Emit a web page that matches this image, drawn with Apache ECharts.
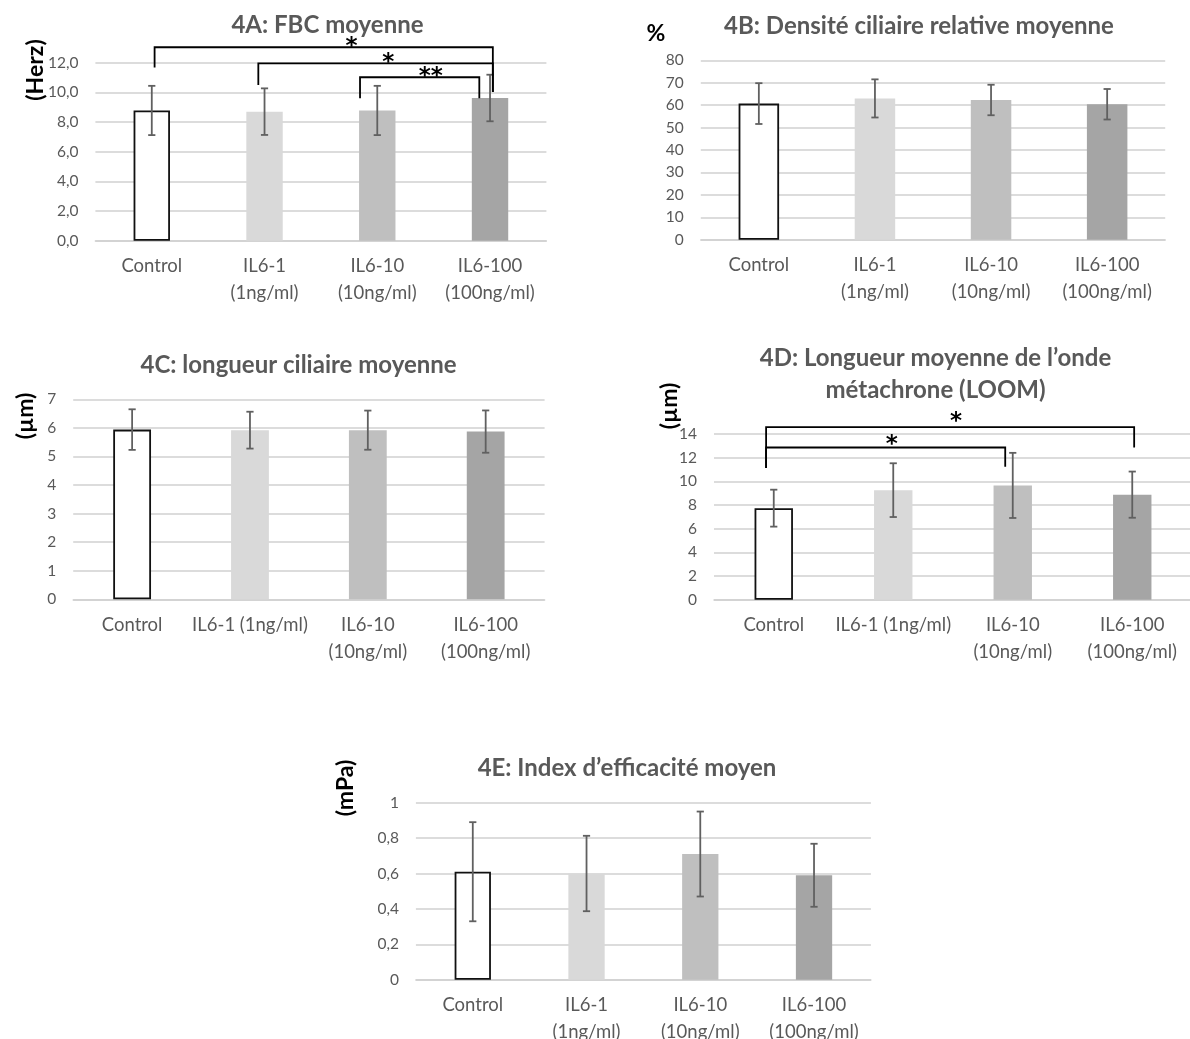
<!DOCTYPE html>
<html><head><meta charset="utf-8">
<script src="https://cdn.jsdelivr.net/npm/echarts/dist/echarts.min.js"></script>
<style>html,body{margin:0;padding:0;background:#fff}#c{width:1190px;height:1039px}</style>
</head><body><div id="c"></div>
<script>
// ---------- data ----------
const categoriesAB = ['Control', 'IL6-1\n(1ng/ml)', 'IL6-10\n(10ng/ml)', 'IL6-100\n(100ng/ml)'];
const categoriesCD = ['Control', 'IL6-1 (1ng/ml)', 'IL6-10\n(10ng/ml)', 'IL6-100\n(100ng/ml)'];
const categoriesE = ['Control', 'IL6-1\n(1ng/ml)', 'IL6-10\n(10ng/ml)', 'IL6-100\n(100ng/ml)'];

const fbcMean = [8.78, 8.70, 8.78, 9.62];
const fbcErr = [1.66, 1.57, 1.66, 1.57];
const densityMean = [60.7, 63.0, 62.3, 60.4];
const densityErr = [9.1, 8.5, 6.8, 6.8];
const lengthMean = [5.94, 5.92, 5.92, 5.87];
const lengthErr = [0.71, 0.645, 0.685, 0.74];
const loomMean = [7.73, 9.25, 9.65, 8.87];
const loomErr = [1.56, 2.27, 2.75, 1.95];
const efficacyMean = [0.61, 0.60, 0.71, 0.59];
const efficacyErr = [0.28, 0.213, 0.24, 0.178];

const ticksA = ['0,0', '2,0', '4,0', '6,0', '8,0', '10,0', '12,0'];
const ticksB = ['0', '10', '20', '30', '40', '50', '60', '70', '80'];
const ticksC = ['0', '1', '2', '3', '4', '5', '6', '7'];
const ticksD = ['0', '2', '4', '6', '8', '10', '12', '14'];
const ticksE = ['0', '0,2', '0,4', '0,6', '0,8', '1'];

// significance brackets (category units / value units):
// [fromCat, toCat, level, leftLegEnd, rightLegEnd, labelCat, labelValue]
const sigA = [
  [0.025, 3.025, 13.04, 11.67, 10.03, 1.771, 13.42],
  [0.945, 3.025, 11.96, 10.50, 10.03, 2.098, 12.37],
  [1.847, 2.905, 11.02, 9.60, 9.60, 2.474, 11.40]
];
const sigALabels = ['*', '*', '**'];
const sigD = [
  [-0.064, 3.016, 14.57, 11.13, 12.85, 1.526, 15.49],
  [-0.064, 1.937, 12.85, 11.13, 11.22, 0.988, 13.53]
];
const sigDLabels = ['*', '*'];

// ---------- styles ----------
const FONT = 'Lato';
const TXT = '#595959';
const GRIDC = '#d0d0d0';
const barStyles = [
  { color: '#ffffff', borderColor: '#111111', borderWidth: 1.8 },
  { color: '#d9d9d9' },
  { color: '#bfbfbf' },
  { color: '#a5a5a5' }
];

const panels = [
  { grid: { left: 95.4, top: 62.7, width: 451, height: 178 }, cats: categoriesAB, mean: fbcMean, err: fbcErr, ticks: ticksA, max: 12, interval: 2, barWidth: 36.4 },
  { grid: { left: 700.8, top: 60.3, width: 464.4, height: 179.4 }, cats: categoriesAB, mean: densityMean, err: densityErr, ticks: ticksB, max: 80, interval: 10, barWidth: 40.5 },
  { grid: { left: 73.2, top: 399.3, width: 471.4, height: 200 }, cats: categoriesCD, mean: lengthMean, err: lengthErr, ticks: ticksC, max: 7, interval: 1, barWidth: 37.8 },
  { grid: { left: 714, top: 433.9, width: 478, height: 165.8 }, cats: categoriesCD, mean: loomMean, err: loomErr, ticks: ticksD, max: 14, interval: 2, barWidth: 38.4 },
  { grid: { left: 415.9, top: 802.7, width: 455, height: 177 }, cats: categoriesE, mean: efficacyMean, err: efficacyErr, ticks: ticksE, max: 1, interval: 0.2, barWidth: 36.3 }
];

function errorRender(params, api) {
  const i = api.value(0), m = api.value(1), e = api.value(2);
  const t = api.coord([i, m + e]), b = api.coord([i, m - e]);
  const hw = 3.6;
  const st = { stroke: '#606060', lineWidth: 1.8 };
  return { type: 'group', children: [
    { type: 'line', shape: { x1: t[0], y1: t[1], x2: b[0], y2: b[1] }, style: st },
    { type: 'line', shape: { x1: t[0] - hw, y1: t[1], x2: t[0] + hw, y2: t[1] }, style: st },
    { type: 'line', shape: { x1: b[0] - hw, y1: b[1], x2: b[0] + hw, y2: b[1] }, style: st }
  ]};
}

function bracketRender(labels) {
  return function (params, api) {
    const band = api.size([1, 0])[0];
    const x0 = api.coord([0, 0])[0];
    const X = v => x0 + v * band;
    const Y = v => api.coord([0, v])[1];
    const x1 = X(api.value(2)), x2 = X(api.value(3));
    const yl = Y(api.value(4)), y1 = Y(api.value(5)), y2 = Y(api.value(6));
    const lx = X(api.value(7)), ly = Y(api.value(8));
    return { type: 'group', children: [
      { type: 'polyline', shape: { points: [[x1, y1], [x1, yl], [x2, yl], [x2, y2]] },
        style: { stroke: '#000', lineWidth: 1.8, fill: 'none' } },
      { type: 'text', x: lx, y: ly + 5.5,
        style: { text: labels[params.dataIndex], fill: '#000', font: 'bold 23px "DejaVu Sans"', align: 'center', verticalAlign: 'middle' } }
    ]};
  };
}

const grid = [], xAxis = [], yAxis = [], series = [];
panels.forEach((p, k) => {
  grid.push(Object.assign({ containLabel: false, outerBoundsMode: 'none' }, p.grid));
  xAxis.push({
    type: 'category', gridIndex: k, data: p.cats,
    axisTick: { show: false },
    axisLine: { lineStyle: { color: GRIDC, width: 1.5 } },
    axisLabel: { interval: 0, color: TXT, fontFamily: FONT, fontSize: 18.5, lineHeight: 26.5, margin: 12.5 }
  });
  yAxis.push({
    type: 'value', gridIndex: k, min: 0, max: p.max, interval: p.interval,
    axisLine: { show: false }, axisTick: { show: false },
    splitLine: { lineStyle: { color: GRIDC, width: 1.5 } },
    axisLabel: { color: TXT, fontFamily: FONT, fontSize: 15.5, margin: 17,
      formatter: v => p.ticks[Math.round(v / p.interval)] }
  });
  series.push({
    type: 'bar', xAxisIndex: k, yAxisIndex: k, barWidth: p.barWidth,
    data: p.mean.map((v, i) => ({ value: v, itemStyle: barStyles[i] })),
    z: 2
  });
  series.push({
    type: 'custom', xAxisIndex: k, yAxisIndex: k, renderItem: errorRender,
    encode: { x: 0, y: 1 },
    data: p.mean.map((v, i) => [i, v, p.err[i]]), z: 5, clip: false
  });
});
series.push({
  type: 'custom', xAxisIndex: 0, yAxisIndex: 0, renderItem: bracketRender(sigALabels),
  encode: { x: 0, y: 1 }, data: sigA.map(r => [0, 0].concat(r)), z: 6, clip: false
});
series.push({
  type: 'custom', xAxisIndex: 3, yAxisIndex: 3, renderItem: bracketRender(sigDLabels),
  encode: { x: 0, y: 1 }, data: sigD.map(r => [0, 0].concat(r)), z: 6, clip: false
});

const titleStyle = { color: TXT, fontFamily: FONT, fontWeight: 'bold', fontSize: 24, lineHeight: 26 };
const title = [
  { text: '4A: FBC moyenne', left: 327.5, top: 12, textAlign: 'center', textStyle: titleStyle, padding: 0 },
  { text: '4B: Densité ciliaire relative moyenne', left: 919, top: 13, textAlign: 'center', textStyle: titleStyle, padding: 0 },
  { text: '4C: longueur ciliaire moyenne', left: 298.6, top: 352, textAlign: 'center', textStyle: titleStyle, padding: 0 },
  { text: '4D: Longueur moyenne de l’onde\nmétachrone (LOOM)', left: 935.5, top: 342.3, textAlign: 'center', textStyle: Object.assign({}, titleStyle, { lineHeight: 32 }), padding: 0 },
  { text: '4E: Index d’efficacité moyen', left: 627, top: 755.3, textAlign: 'center', textStyle: titleStyle, padding: 0 }
];

const nameFont = 'bold 23px ' + FONT;
function axisName(text, x, y, rot) {
  return { type: 'text', x: x, y: y, rotation: rot, z: 10,
    style: { text: text, font: nameFont, fill: '#000', align: 'center', verticalAlign: 'middle' } };
}
const graphic = [
  axisName('(Herz)', 36, 70, Math.PI / 2),
  axisName('%', 656, 33.3, 0),
  axisName('(µm)', 26, 416, Math.PI / 2),
  axisName('(µm)', 670, 406, Math.PI / 2),
  axisName('(mPa)', 346, 788, Math.PI / 2)
];

const chart = echarts.init(document.getElementById('c'), null, { renderer: 'canvas' });
chart.setOption({ animation: false, backgroundColor: '#fff', title, grid, xAxis, yAxis, series, graphic });
</script></body></html>
